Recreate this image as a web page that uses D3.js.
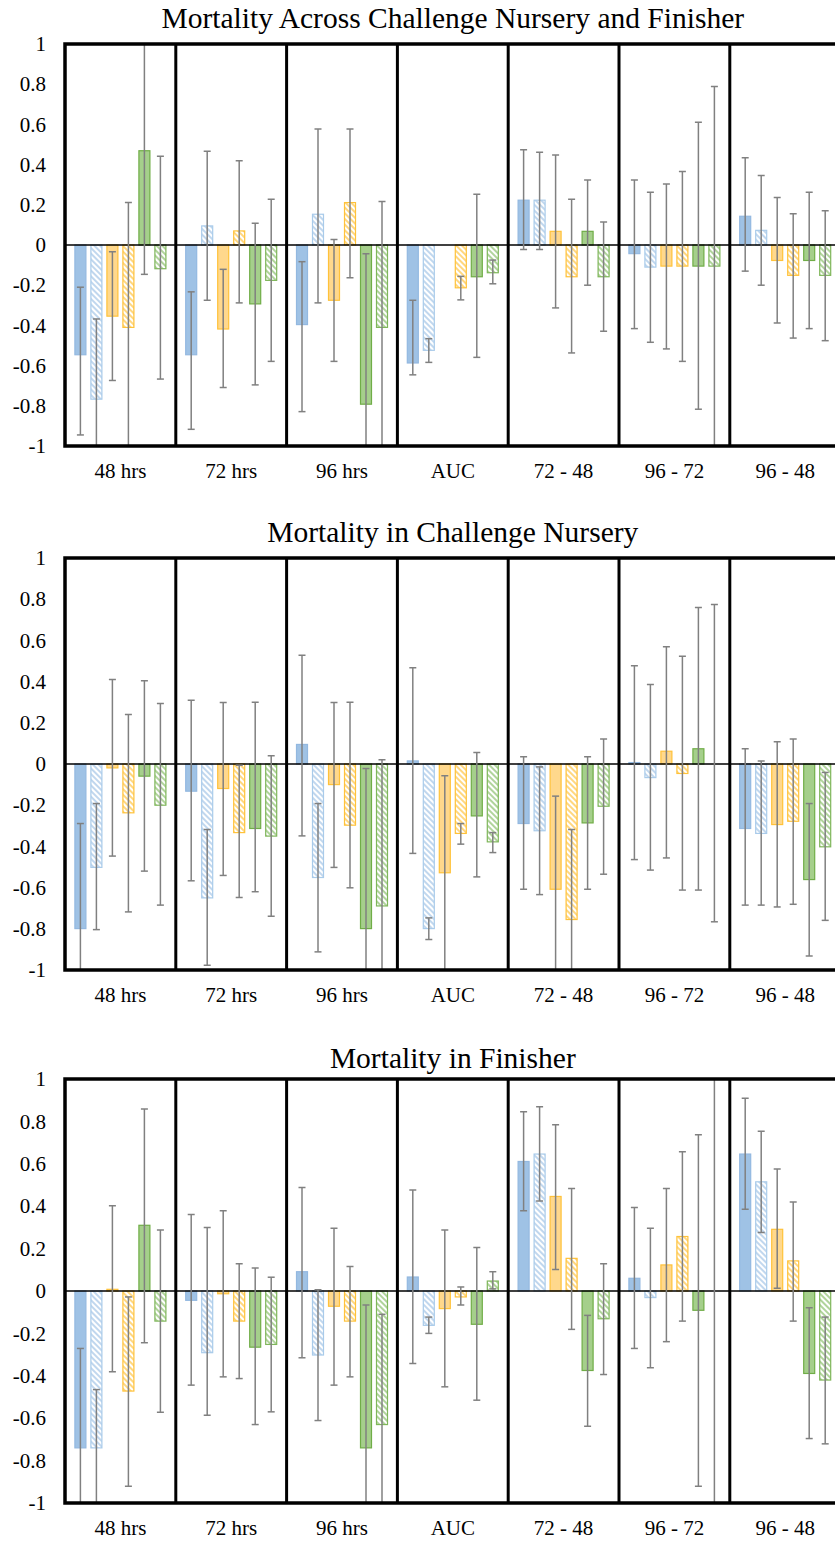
<!doctype html>
<html>
<head>
<meta charset="utf-8">
<style>
body { margin: 0; background: #fff; }
text { font-family: "Liberation Serif", "Times New Roman", serif; fill: #000; }
.err { stroke: #808080; stroke-width: 1.5px; }
</style>
</head>
<body>
<script src="https://cdn.jsdelivr.net/npm/d3@7"></script>
<script>

var categories = ['48 hrs', '72 hrs', '96 hrs', 'AUC', '72 - 48', '96 - 72', '96 - 48'];
var series = ['blueSolid', 'blueHatch', 'orangeSolid', 'orangeHatch', 'greenSolid', 'greenHatch'];
var yTicks = [-1, -0.8, -0.6, -0.4, -0.2, 0, 0.2, 0.4, 0.6, 0.8, 1];

var titles = [
	'Mortality Across Challenge Nursery and Finisher',
	'Mortality in Challenge Nursery',
	'Mortality in Finisher'
];

// one row per category, one column per series
var acrossValue = [
	[-0.546, -0.767, -0.354, -0.41, 0.469, -0.118],
	[-0.546, 0.095, -0.418, 0.07, -0.293, -0.176],
	[-0.396, 0.153, -0.275, 0.211, -0.792, -0.41],
	[-0.587, -0.524, null, -0.213, -0.158, -0.138],
	[0.223, 0.223, 0.068, -0.158, 0.068, -0.158],
	[-0.043, -0.11, -0.105, -0.105, -0.105, -0.105],
	[0.143, 0.073, -0.077, -0.151, -0.077, -0.151]
];
var acrossLow = [
	[-0.945, -1, -0.674, -1, -0.146, -0.667],
	[-0.917, -0.275, -0.709, -0.288, -0.696, -0.579],
	[-0.829, -0.288, -0.579, -0.163, -1, -1],
	[-0.646, -0.584, null, -0.273, -0.559, -0.193],
	[-0.022, -0.022, -0.313, -0.537, -0.2, -0.429],
	[-0.416, -0.484, -0.517, -0.579, -0.817, -1],
	[-0.13, -0.2, -0.388, -0.463, -0.416, -0.476]
];
var acrossHigh = [
	[-0.21, -0.368, -0.033, 0.211, 1, 0.441],
	[-0.233, 0.466, -0.121, 0.419, 0.108, 0.228],
	[-0.083, 0.577, 0.027, 0.577, -0.043, 0.216],
	[-0.275, -0.466, null, -0.156, 0.253, -0.075],
	[0.474, 0.461, 0.448, 0.228, 0.324, 0.115],
	[0.324, 0.263, 0.304, 0.366, 0.611, 0.789],
	[0.434, 0.346, 0.236, 0.156, 0.263, 0.17]
];

var nurseryValue = [
	[-0.799, -0.502, -0.019, -0.237, -0.059, -0.2],
	[-0.132, -0.65, -0.119, -0.333, -0.313, -0.35],
	[0.095, -0.551, -0.1, -0.297, -0.799, -0.689],
	[0.015, -0.799, -0.528, -0.337, -0.252, -0.378],
	[-0.289, -0.324, -0.608, -0.755, -0.286, -0.205],
	[0.007, -0.066, 0.062, -0.046, 0.074, 0],
	[-0.313, -0.337, -0.294, -0.278, -0.561, -0.402]
];
var nurseryLow = [
	[-1, -0.804, -0.447, -0.718, -0.52, -0.685],
	[-0.567, -0.977, -0.541, -0.648, -0.62, -0.739],
	[-0.349, -0.912, -0.502, -0.601, -1, -1],
	[-0.434, -0.852, -1, -0.389, -0.548, -0.43],
	[-0.608, -0.634, -1, -1, -0.608, -0.535],
	[-0.464, -0.515, -0.456, -0.612, -0.612, -0.766],
	[-0.685, -0.685, -0.694, -0.681, -0.932, -0.759]
];
var nurseryHigh = [
	[-0.289, -0.192, 0.41, 0.24, 0.404, 0.294],
	[0.31, -0.318, 0.299, -0.006, 0.3, 0.04],
	[0.528, -0.192, 0.299, 0.3, -0.022, 0.021],
	[0.467, -0.747, -0.057, -0.289, 0.056, -0.333],
	[0.035, -0.014, -0.156, -0.318, 0.035, 0.121],
	[0.477, 0.386, 0.569, 0.523, 0.76, 0.774],
	[0.074, 0.015, 0.108, 0.121, -0.192, -0.041]
];

var finisherValue = [
	[-0.74, -0.74, 0.008, -0.472, 0.31, -0.142],
	[-0.044, -0.291, -0.013, -0.142, -0.265, -0.252],
	[0.091, -0.302, -0.072, -0.142, -0.74, -0.63],
	[0.066, -0.162, -0.083, -0.028, -0.157, 0.047],
	[0.611, 0.646, 0.446, 0.154, -0.375, -0.131],
	[0.06, -0.031, 0.123, 0.257, -0.091, 0],
	[0.646, 0.515, 0.291, 0.142, -0.389, -0.42]
];
var finisherLow = [
	[-1, -1, -0.381, -0.921, -0.244, -0.572],
	[-0.444, -0.586, -0.405, -0.413, -0.63, -0.57],
	[-0.315, -0.611, -0.444, -0.405, -1, -1],
	[-0.342, -0.2, -0.452, -0.066, -0.515, 0.01],
	[0.378, 0.425, 0.102, -0.181, -0.638, -0.394],
	[-0.271, -0.362, -0.239, -0.142, -0.921, -1],
	[0.386, 0.276, 0.013, -0.142, -0.696, -0.721]
];
var finisherHigh = [
	[-0.271, -0.465, 0.402, -0.028, 0.858, 0.288],
	[0.361, 0.3, 0.378, 0.129, 0.109, 0.065],
	[0.488, 0.006, 0.296, 0.115, -0.066, -0.11],
	[0.477, -0.123, 0.288, 0.019, 0.205, 0.091],
	[0.846, 0.869, 0.784, 0.483, -0.115, 0.129],
	[0.394, 0.296, 0.483, 0.657, 0.737, 1],
	[0.909, 0.753, 0.575, 0.42, -0.079, -0.123]
];

var panels = [
	{ title: titles[0], value: acrossValue, low: acrossLow, high: acrossHigh, top: 44, bottom: 446, titleY: 28 },
	{ title: titles[1], value: nurseryValue, low: nurseryLow, high: nurseryHigh, top: 558, bottom: 970, titleY: 542 },
	{ title: titles[2], value: finisherValue, low: finisherLow, high: finisherHigh, top: 1079, bottom: 1503, titleY: 1068 }
];

var style = {
	blueSolid:   { fill: '#9FC2E5', stroke: '#93B8E0', hatch: false },
	blueHatch:   { fill: '#9FC2E5', stroke: '#A9CBEA', hatch: true },
	orangeSolid: { fill: '#FFD88C', stroke: '#FFC23A', hatch: false },
	orangeHatch: { fill: '#FFC23A', stroke: '#FFC23A', hatch: true },
	greenSolid:  { fill: '#A5CF8B', stroke: '#70AD47', hatch: false },
	greenHatch:  { fill: '#86BD66', stroke: '#7FB65A', hatch: true }
};

var W = 835, H = 1541;
var left = 65, plotW = 775.6;

var svg = d3.select('body').append('svg')
	.attr('width', W)
	.attr('height', H);

var defs = svg.append('defs');
series.forEach(function(s){
	if (!style[s].hatch) return;
	var p = defs.append('pattern')
		.attr('id', 'hatch-' + s)
		.attr('patternUnits', 'userSpaceOnUse')
		.attr('width', 4)
		.attr('height', 4)
		.attr('patternTransform', 'rotate(-45)');
	p.append('rect').attr('width', 4).attr('height', 4).attr('fill', '#fff');
	p.append('line')
		.attr('x1', 1).attr('y1', 0).attr('x2', 1).attr('y2', 4)
		.attr('stroke', style[s].fill)
		.attr('stroke-width', 1.3);
});

var fmt = function(d){ return String(+d.toFixed(1)); };
var clamp = function(v){ return Math.max(-1, Math.min(1, v)); };

panels.forEach(function(panel, pi){

	var x = d3.scaleBand()
		.domain(categories)
		.range([left, left + plotW]);

	var xs = d3.scaleBand()
		.domain(series)
		.range([0, x.bandwidth()])
		.paddingInner(0.25)
		.paddingOuter(0.5875);

	var y = d3.scaleLinear()
		.domain([-1, 1])
		.range([panel.bottom, panel.top]);

	var g = svg.append('g');

	defs.append('clipPath').attr('id', 'clip' + pi)
		.append('rect')
		.attr('x', left).attr('y', panel.top)
		.attr('width', plotW).attr('height', panel.bottom - panel.top);

	g.append('text')
		.attr('x', left + plotW / 2)
		.attr('y', panel.titleY)
		.attr('text-anchor', 'middle')
		.style('font-size', '29.5px')
		.text(panel.title);

	// flatten rows into bar records
	var bars = [];
	categories.forEach(function(c, ci){
		series.forEach(function(s, si){
			var v = panel.value[ci][si];
			if (v === null) return;
			bars.push({ cat: c, s: s, v: v, lo: panel.low[ci][si], hi: panel.high[ci][si] });
		});
	});

	var plot = g.append('g').attr('clip-path', 'url(#clip' + pi + ')');

	plot.selectAll('.bar')
		.data(bars.filter(function(d){ return d.v !== 0; }))
		.enter().append('rect')
			.attr('class', 'bar')
			.attr('x', function(d){ return x(d.cat) + xs(d.s) + 0.5; })
			.attr('y', function(d){ return y(Math.max(0, d.v)); })
			.attr('width', xs.bandwidth() - 1)
			.attr('height', function(d){ return Math.abs(y(d.v) - y(0)); })
			.attr('fill', function(d){ return style[d.s].hatch ? 'url(#hatch-' + d.s + ')' : style[d.s].fill; })
			.attr('stroke', function(d){ return style[d.s].stroke; })
			.attr('stroke-width', 1.2);

	plot.append('line')
		.attr('x1', left).attr('x2', left + plotW)
		.attr('y1', y(0)).attr('y2', y(0))
		.attr('stroke', '#000')
		.attr('stroke-width', 1.5);

	var err = plot.selectAll('.errbar')
		.data(bars.filter(function(d){ return d.lo !== null; }))
		.enter().append('g')
			.attr('class', 'errbar')
			.attr('transform', function(d){ return 'translate(' + (x(d.cat) + xs(d.s) + xs.bandwidth() / 2) + ',0)'; });

	err.append('line')
		.attr('class', 'err')
		.attr('y1', function(d){ return y(clamp(d.lo)); })
		.attr('y2', function(d){ return y(clamp(d.hi)); });

	err.each(function(d){
		var e = d3.select(this);
		[d.lo, d.hi].forEach(function(v){
			if (v <= -1 || v >= 1) return;
			e.append('line')
				.attr('class', 'err')
				.attr('x1', -3.5).attr('x2', 3.5)
				.attr('y1', y(v)).attr('y2', y(v));
		});
	});

	// frame and category dividers
	g.selectAll('.divider')
		.data(categories.slice(1))
		.enter().append('line')
			.attr('x1', function(d){ return x(d); })
			.attr('x2', function(d){ return x(d); })
			.attr('y1', panel.top).attr('y2', panel.bottom)
			.attr('stroke', '#000')
			.attr('stroke-width', 3);

	g.append('rect')
		.attr('x', left).attr('y', panel.top)
		.attr('width', plotW).attr('height', panel.bottom - panel.top)
		.attr('fill', 'none')
		.attr('stroke', '#000')
		.attr('stroke-width', 3.5);

	var yAxis = g.append('g')
		.attr('transform', 'translate(' + left + ',0)')
		.call(d3.axisLeft(y).tickValues(yTicks).tickSize(0).tickPadding(19).tickFormat(fmt));
	yAxis.select('.domain').remove();
	yAxis.attr('font-family', null);
	yAxis.selectAll('text')
		.style('font-size', '21px')
		.style('font-family', '"Liberation Serif", "Times New Roman", serif');

	var xAxis = g.append('g')
		.attr('transform', 'translate(0,' + panel.bottom + ')')
		.call(d3.axisBottom(x).tickSize(0).tickPadding(17));
	xAxis.select('.domain').remove();
	xAxis.attr('font-family', null);
	xAxis.selectAll('text')
		.style('font-size', '21px')
		.style('font-family', '"Liberation Serif", "Times New Roman", serif');
});

</script>
</body>
</html>
